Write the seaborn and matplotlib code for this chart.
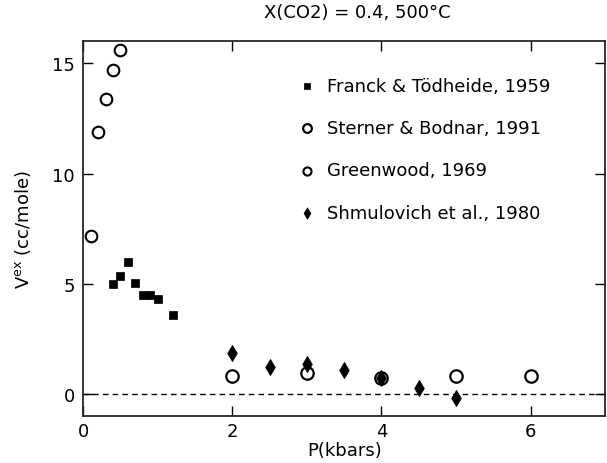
import pandas as pd
import matplotlib
matplotlib.use("Agg")
import matplotlib.pyplot as plt
import seaborn as sns

# Franck & Tödheide, 1959 (filled squares)
franck_p = [0.4, 0.5, 0.6, 0.7, 0.8, 0.9, 1.0, 1.2]
franck_v = [5.0, 5.35, 6.0, 5.05, 4.5, 4.5, 4.3, 3.6]

# Sterner & Bodnar, 1991 (open circles, high P)
sterner_p = [2.0, 3.0, 4.0, 5.0, 6.0]
sterner_v = [0.83, 0.94, 0.72, 0.83, 0.83]

# Greenwood, 1969 (open circles, low P)
green_p = [0.1, 0.2, 0.3, 0.4, 0.5]
green_v = [7.15, 11.9, 13.4, 14.7, 15.6]

# Shmulovich et al., 1980 (filled diamonds)
shmul_p = [2.0, 2.5, 3.0, 3.5, 4.0, 4.5, 5.0]
shmul_v = [1.87, 1.21, 1.36, 1.1, 0.72, 0.26, -0.19]

sns.set_style("ticks")
plt.rcParams["font.family"] = ["DejaVu Sans"]
plt.rcParams["text.color"] = "black"
plt.rcParams["axes.labelcolor"] = "black"
plt.rcParams["xtick.color"] = "black"
plt.rcParams["ytick.color"] = "black"

fig = plt.figure(figsize=(6.07, 4.64), dpi=100)
ax = fig.add_axes([0.137, 0.101, 0.86, 0.808])

ax.axhline(0, color="black", lw=1, ls=(0, (4, 3)), zorder=1)

sns.scatterplot(x=franck_p, y=franck_v, marker="s", s=40, color="black",
                edgecolor="black", ax=ax, label="Franck & Tödheide, 1959", zorder=3)
sns.scatterplot(x=sterner_p, y=sterner_v, marker="o", s=80, facecolor="white",
                edgecolor="black", linewidth=1.6, ax=ax, label="Sterner & Bodnar, 1991", zorder=3)
sns.scatterplot(x=green_p, y=green_v, marker="o", s=70, facecolor="white",
                edgecolor="black", linewidth=1.5, ax=ax, label="Greenwood, 1969", zorder=3)
sns.scatterplot(x=shmul_p, y=shmul_v, marker="d", s=65, color="black",
                edgecolor="black", ax=ax, label="Shmulovich et al., 1980", zorder=4)

ax.set_xlim(0, 7)
ax.set_ylim(-1, 16)
ax.set_xticks([0, 2, 4, 6])
ax.set_yticks([0, 5, 10, 15])
ax.tick_params(direction="in", top=True, right=True, length=7, width=1,
               labelsize=13, pad=4)
ax.tick_params(axis="y", pad=6)
for sp in ax.spines.values():
    sp.set_linewidth(1.3)

ax.set_xlabel("P(kbars)", fontsize=13, labelpad=1)
ax.set_ylabel(r"V$^{\rm ex}$ (cc/mole)", fontsize=13, labelpad=14)
fig.text(0.588, 0.972, "X(CO2) = 0.4, 500°C", ha="center", va="center", fontsize=13)

leg = ax.legend(loc="upper left", bbox_to_anchor=(0.38, 0.925), frameon=False,
                fontsize=13, handletextpad=0.1, labelspacing=1.35,
                markerscale=0.7, borderaxespad=0)

fig.savefig("out.png", dpi=100)
